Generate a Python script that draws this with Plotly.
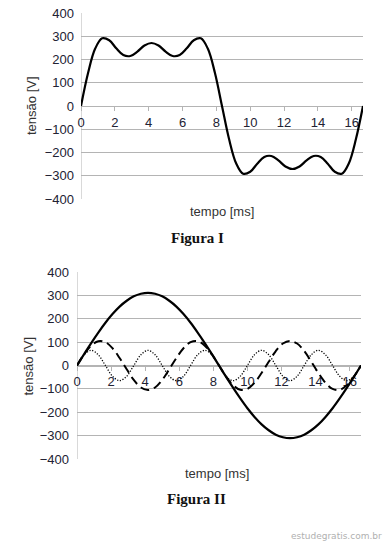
import plotly.graph_objects as go

# time samples [ms] (one period of 60 Hz, 40 steps)
t_ms = [0.000, 0.417, 0.833, 1.250, 1.667, 2.083, 2.500, 2.917, 3.333, 3.750,
        4.167, 4.583, 5.000, 5.417, 5.833, 6.250, 6.667, 7.083, 7.500, 7.917,
        8.333, 8.750, 9.167, 9.583, 10.000, 10.417, 10.833, 11.250, 11.667, 12.083,
        12.500, 12.917, 13.333, 13.750, 14.167, 14.583, 15.000, 15.417, 15.833, 16.250,
        16.667]

# Figura I: resulting voltage [V]
v_total = [0, 142, 246, 291, 283, 248, 219, 215, 234, 260,
           271, 260, 234, 215, 219, 248, 283, 291, 246, 142,
           0, -142, -246, -291, -283, -248, -219, -215, -234, -260,
           -271, -260, -234, -215, -219, -248, -283, -291, -246, -142,
           0]

# Figura II: fundamental
v_fund = [0, 49, 96, 141, 183, 220, 252, 277, 296, 307,
          311, 307, 296, 277, 252, 220, 183, 141, 96, 49,
          0, -49, -96, -141, -183, -220, -252, -277, -296, -307,
          -311, -307, -296, -277, -252, -220, -183, -141, -96, -49,
          0]

# Figura II: 3rd harmonic
v_h3 = [0, 48, 85, 104, 100, 74, 32, -16, -62, -94,
        -105, -94, -62, -16, 32, 74, 100, 104, 85, 48,
        0, -48, -85, -104, -100, -74, -32, 16, 62, 94,
        105, 94, 62, 16, -32, -74, -100, -104, -85, -48,
        0]

# Figura II: 5th harmonic
v_h5 = [0, 46, 65, 46, 0, -46, -65, -46, 0, 46,
        65, 46, 0, -46, -65, -46, 0, 46, 65, 46,
        0, -46, -65, -46, 0, 46, 65, 46, 0, -46,
        -65, -46, 0, 46, 65, 46, 0, -46, -65, -46,
        0]

x_ticks = [0, 2, 4, 6, 8, 10, 12, 14, 16]
y_ticks = [-400, -300, -200, -100, 0, 100, 200, 300, 400]

W, H = 388, 543
def px(x): return x / W
def py(y): return 1 - y / H

fig = go.Figure()

fig.add_trace(go.Scatter(x=t_ms, y=v_total, mode='lines', xaxis='x', yaxis='y',
                         line=dict(color='black', width=2.2, shape='spline', smoothing=1)))
fig.add_trace(go.Scatter(x=t_ms, y=v_fund, mode='lines', xaxis='x2', yaxis='y2',
                         line=dict(color='black', width=2.2, shape='spline', smoothing=1)))
fig.add_trace(go.Scatter(x=t_ms, y=v_h3, mode='lines', xaxis='x2', yaxis='y2',
                         line=dict(color='black', width=2, dash='9px,5px', shape='spline', smoothing=1)))
fig.add_trace(go.Scatter(x=t_ms, y=v_h5, mode='lines', xaxis='x2', yaxis='y2',
                         line=dict(color='black', width=1.3, dash='1.2px,1.6px', shape='spline', smoothing=1)))

tickfont = dict(family='Liberation Sans, Arial, sans-serif', size=13, color='#222233')
grid = '#b4b4b4'

def yax(dom, anchor, standoff):
    return dict(domain=dom, range=[-400, 400], tickvals=y_ticks, showgrid=True, gridcolor=grid,
                gridwidth=1, zeroline=False, showline=False, ticks='', tickfont=tickfont,
                ticklabelstandoff=standoff,
                anchor=anchor, fixedrange=True, automargin=False)

def xax(dom, anchor, pos):
    return dict(domain=dom, range=[0, 16.667], tickvals=x_ticks, showgrid=False, zeroline=False,
                showline=True, linecolor=grid, linewidth=1, ticks='outside', ticklen=4,
                tickcolor=grid, tickfont=tickfont, anchor='free', position=pos,
                layer='below traces', fixedrange=True, automargin=False)

# Figure I area: x 81..363, y 13..199 ; Figure II area: x 77..361, y 272..459
fig.update_layout(
    template='none',
    width=W, height=H, margin=dict(l=0, r=0, t=0, b=0, pad=0, autoexpand=False),
    paper_bgcolor='white', plot_bgcolor='white', showlegend=False,
    xaxis=xax([px(81), px(363)], 'y', py(106)),
    yaxis=yax([py(199), py(13)], 'x', 6),
    xaxis2=xax([px(77), px(361)], 'y2', py(365.5)),
    yaxis2=yax([py(459), py(272)], 'x2', 7),
)

# vertical axis lines at x = 0
for xa, ya in (('x', 'y'), ('x2', 'y2')):
    fig.add_shape(type='line', xref=xa, yref=ya, x0=0, x1=0, y0=-400, y1=400,
                  line=dict(color=grid, width=1), layer='below')

labfont = dict(family='Liberation Sans, Arial, sans-serif', size=13, color='#333333')
ann = [
    dict(x=px(32), y=py(106), text='tensão [V]', textangle=-90),
    dict(x=px(222), y=py(211), text='tempo [ms]'),
    dict(x=px(28), y=py(365.5), text='tensão [V]', textangle=-90),
    dict(x=px(217), y=py(473), text='tempo [ms]'),
]
for a in ann:
    fig.add_annotation(xref='paper', yref='paper', showarrow=False, font=labfont,
                       xanchor='center', yanchor='middle', **a)

titlefont = dict(family='Liberation Serif, Times New Roman, serif', size=15, color='#111111')
fig.add_annotation(xref='paper', yref='paper', x=px(197), y=py(238), text='<b>Figura I</b>',
                   showarrow=False, font=titlefont, xanchor='center', yanchor='middle')
fig.add_annotation(xref='paper', yref='paper', x=px(196), y=py(499), text='<b>Figura II</b>',
                   showarrow=False, font=titlefont, xanchor='center', yanchor='middle')
fig.add_annotation(xref='paper', yref='paper', x=px(384), y=py(536), text='estudegratis.com.br',
                   showarrow=False, font=dict(family='DejaVu Sans, sans-serif', size=9, color='#b0b0b0'),
                   xanchor='right', yanchor='middle')

fig.write_html('out.html', config={'displayModeBar': False, 'staticPlot': True},
               post_script="document.body.style.margin='0';document.body.style.padding='0';"
                           "document.body.style.overflow='hidden';")
